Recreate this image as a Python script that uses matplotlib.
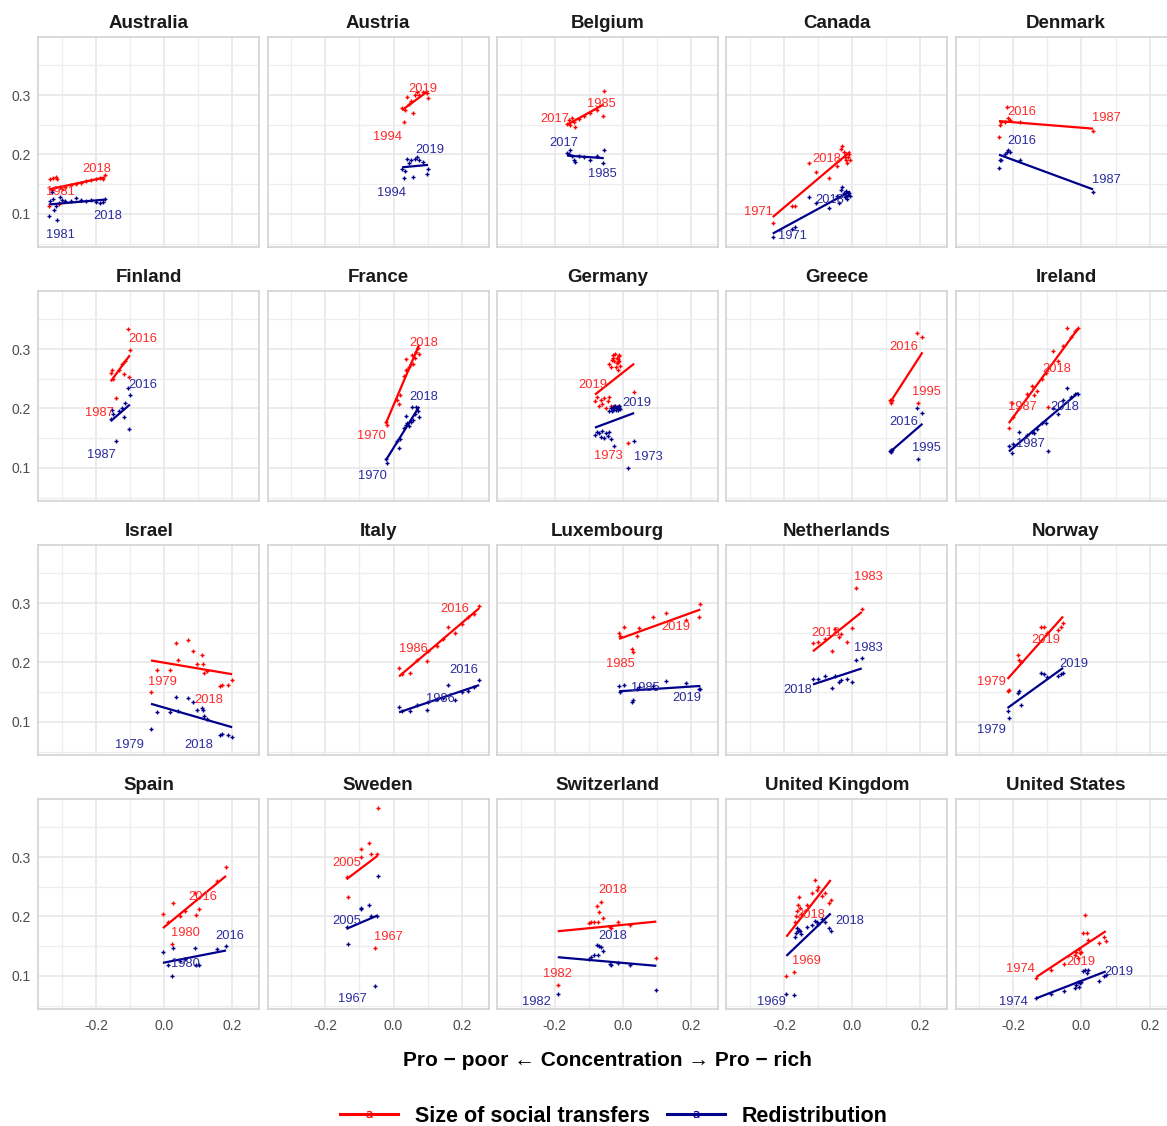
import numpy as np
import matplotlib
matplotlib.use("Agg")
import matplotlib.pyplot as plt
from matplotlib.lines import Line2D

plt.rcParams['font.family'] = ['Liberation Sans', 'DejaVu Sans']
plt.rcParams['axes.unicode_minus'] = False

# ---------------- data ----------------
COUNTRIES = ["Australia", "Austria", "Belgium", "Canada", "Denmark",
             "Finland", "France", "Germany", "Greece", "Ireland",
             "Israel", "Italy", "Luxembourg", "Netherlands", "Norway",
             "Spain", "Sweden", "Switzerland", "United Kingdom", "United States"]

australia_years = [1981, 1985, 1989, 1994, 1995, 1996, 1997, 1998, 1999, 2000, 2001, 2002, 2003, 2004, 2008, 2010, 2012, 2014, 2016, 2018]
australia_conc = [-0.339, -0.334, -0.330, -0.325, -0.322, -0.318, -0.314, -0.310, -0.307, -0.300, -0.290, -0.275, -0.260, -0.245, -0.230, -0.215, -0.200, -0.190, -0.180, -0.174]
australia_size = [0.113, 0.158, 0.140, 0.160, 0.143, 0.163, 0.158, 0.117, 0.145, 0.142, 0.146, 0.148, 0.150, 0.152, 0.155, 0.157, 0.158, 0.160, 0.158, 0.165]
australia_redis = [0.097, 0.122, 0.137, 0.125, 0.107, 0.113, 0.090, 0.118, 0.128, 0.124, 0.121, 0.122, 0.127, 0.123, 0.122, 0.124, 0.120, 0.119, 0.120, 0.126]

austria_years = [1994, 1995, 1997, 2000, 2004, 2007, 2010, 2013, 2014, 2015, 2016, 2017, 2019]
austria_conc = [0.030, 0.025, 0.033, 0.040, 0.045, 0.050, 0.057, 0.063, 0.068, 0.075, 0.085, 0.101, 0.099]
austria_size = [0.255, 0.278, 0.275, 0.297, 0.285, 0.290, 0.270, 0.300, 0.305, 0.300, 0.305, 0.295, 0.303]
austria_redis = [0.160, 0.175, 0.172, 0.193, 0.185, 0.190, 0.162, 0.192, 0.195, 0.190, 0.188, 0.175, 0.167]

belgium_years = [1985, 1988, 1992, 1995, 1997, 2000, 2003, 2006, 2009, 2012, 2015, 2017]
belgium_conc = [-0.059, -0.056, -0.077, -0.097, -0.114, -0.129, -0.139, -0.144, -0.149, -0.154, -0.159, -0.164]
belgium_size = [0.265, 0.307, 0.275, 0.270, 0.265, 0.260, 0.247, 0.255, 0.262, 0.250, 0.258, 0.252]
belgium_redis = [0.185, 0.207, 0.197, 0.190, 0.195, 0.198, 0.187, 0.190, 0.197, 0.208, 0.200, 0.203]

canada_years = [1971, 1975, 1981, 1987, 1991, 1994, 1997, 1998, 2000, 2004, 2007, 2010, 2012, 2013, 2014, 2015, 2017, 2018]
canada_conc = [-0.233, -0.177, -0.169, -0.127, -0.105, -0.069, -0.044, -0.039, -0.034, -0.029, -0.024, -0.021, -0.019, -0.017, -0.014, -0.012, -0.009, -0.006]
canada_size = [0.085, 0.113, 0.113, 0.185, 0.171, 0.160, 0.180, 0.190, 0.210, 0.215, 0.205, 0.195, 0.190, 0.200, 0.185, 0.195, 0.200, 0.190]
canada_redis = [0.062, 0.075, 0.078, 0.128, 0.118, 0.110, 0.130, 0.118, 0.140, 0.145, 0.135, 0.128, 0.130, 0.138, 0.125, 0.132, 0.135, 0.130]

denmark_years = [1987, 1992, 1995, 2000, 2004, 2007, 2010, 2013, 2016]
denmark_conc = [0.034, -0.180, -0.210, -0.215, -0.219, -0.225, -0.235, -0.242, -0.240]
denmark_size = [0.240, 0.255, 0.258, 0.262, 0.280, 0.255, 0.255, 0.230, 0.250]
denmark_redis = [0.137, 0.190, 0.205, 0.208, 0.205, 0.200, 0.190, 0.178, 0.190]

finland_years = [1987, 1991, 1995, 2000, 2004, 2007, 2010, 2011, 2012, 2013, 2016]
finland_conc = [-0.142, -0.157, -0.154, -0.149, -0.134, -0.124, -0.119, -0.114, -0.104, -0.101, -0.107]
finland_size = [0.218, 0.260, 0.265, 0.250, 0.265, 0.275, 0.258, 0.280, 0.253, 0.298, 0.333]
finland_redis = [0.145, 0.183, 0.197, 0.190, 0.195, 0.200, 0.185, 0.210, 0.165, 0.222, 0.235]

france_years = [1970, 1975, 1979, 1984, 1989, 1994, 2000, 2005, 2010, 2011, 2012, 2013, 2014, 2015, 2016, 2017, 2018]
france_conc = [-0.023, -0.020, 0.010, 0.017, 0.019, 0.030, 0.035, 0.036, 0.040, 0.045, 0.050, 0.053, 0.057, 0.063, 0.067, 0.072, 0.075]
france_size = [0.178, 0.173, 0.215, 0.207, 0.222, 0.255, 0.265, 0.283, 0.265, 0.270, 0.275, 0.290, 0.275, 0.285, 0.295, 0.302, 0.292]
france_redis = [0.115, 0.108, 0.145, 0.133, 0.148, 0.168, 0.172, 0.187, 0.175, 0.170, 0.178, 0.202, 0.180, 0.190, 0.202, 0.195, 0.186]

germany_years = [1973, 1978, 1981, 1983, 1984, 1985, 1986, 1987, 1988, 1989, 1990, 1991, 1992,
                 1994, 1995, 1996, 1998, 2000, 2001, 2002, 2004, 2006, 2008, 2010, 2011, 2012, 2014,
                 2015, 2016, 2017, 2019]
germany_conc = [0.016, 0.033, -0.026, -0.082, -0.075, -0.070, -0.065, -0.060, -0.055, -0.050, -0.045, -0.040, -0.035,
                -0.040, -0.035, -0.030, -0.028, -0.025, -0.022, -0.020, -0.018, -0.015, -0.013, -0.012, -0.010,
                -0.008, -0.014, -0.011, -0.032, -0.017, -0.026]
germany_size = [0.142, 0.227, 0.205, 0.212, 0.220, 0.205, 0.215, 0.208, 0.218, 0.200, 0.212, 0.220, 0.205,
                0.275, 0.270, 0.285, 0.290, 0.280, 0.292, 0.270, 0.285, 0.278, 0.265, 0.288, 0.280,
                0.272, 0.283, 0.290, 0.282, 0.276, 0.203]
germany_redis = [0.100, 0.145, 0.137, 0.155, 0.160, 0.158, 0.152, 0.163, 0.150, 0.158, 0.153, 0.160, 0.148,
                 0.195, 0.200, 0.198, 0.203, 0.200, 0.205, 0.197, 0.202, 0.198, 0.200, 0.204, 0.201,
                 0.199, 0.203, 0.205, 0.196, 0.200, 0.203]

greece_years = [1995, 2000, 2004, 2007, 2010, 2013, 2016]
greece_conc = [0.194, 0.191, 0.206, 0.116, 0.114, 0.112, 0.113]
greece_size = [0.210, 0.327, 0.320, 0.215, 0.210, 0.215, 0.212]
greece_redis = [0.115, 0.200, 0.193, 0.130, 0.127, 0.128, 0.130]

ireland_years = [1987, 1994, 1995, 1996, 2000, 2002, 2004, 2005, 2006, 2007, 2008, 2009, 2010, 2011, 2012, 2014, 2016, 2018]
ireland_conc = [-0.205, -0.213, -0.200, -0.183, -0.160, -0.145, -0.138, -0.130, -0.115, -0.105, -0.098, -0.083, -0.070, -0.055, -0.042, -0.030, -0.020, -0.010]
ireland_size = [0.210, 0.168, 0.185, 0.200, 0.225, 0.237, 0.222, 0.230, 0.250, 0.260, 0.203, 0.297, 0.280, 0.305, 0.335, 0.320, 0.330, 0.335]
ireland_redis = [0.125, 0.137, 0.140, 0.160, 0.155, 0.160, 0.158, 0.165, 0.175, 0.175, 0.128, 0.200, 0.190, 0.215, 0.235, 0.220, 0.225, 0.225]

israel_years = [1979, 1986, 1992, 1997, 2001, 2005, 2007, 2010, 2011, 2012, 2013, 2014, 2015, 2016, 2017, 2018]
israel_conc = [-0.039, -0.022, 0.017, 0.034, 0.041, 0.070, 0.084, 0.096, 0.110, 0.114, 0.116, 0.124, 0.164, 0.168, 0.186, 0.199]
israel_size = [0.150, 0.187, 0.188, 0.232, 0.205, 0.237, 0.220, 0.198, 0.213, 0.198, 0.183, 0.186, 0.160, 0.162, 0.163, 0.170]
israel_redis = [0.088, 0.117, 0.117, 0.142, 0.118, 0.140, 0.133, 0.120, 0.123, 0.120, 0.110, 0.105, 0.078, 0.080, 0.078, 0.075]

italy_years = [1986, 1987, 1989, 1991, 1993, 1995, 1998, 2000, 2002, 2004, 2008, 2010, 2014, 2016]
italy_conc = [0.016, 0.025, 0.048, 0.069, 0.098, 0.100, 0.127, 0.145, 0.160, 0.180, 0.200, 0.219, 0.235, 0.251]
italy_size = [0.190, 0.180, 0.183, 0.205, 0.203, 0.220, 0.227, 0.240, 0.260, 0.250, 0.265, 0.277, 0.282, 0.295]
italy_redis = [0.125, 0.118, 0.118, 0.128, 0.120, 0.133, 0.138, 0.140, 0.162, 0.137, 0.150, 0.152, 0.158, 0.170]

luxembourg_years = [1985, 1986, 1991, 1994, 1997, 2000, 2004, 2007, 2010, 2013, 2016, 2019]
luxembourg_conc = [0.027, 0.029, -0.011, -0.009, 0.003, 0.042, 0.047, 0.088, 0.125, 0.186, 0.222, 0.227]
luxembourg_size = [0.222, 0.218, 0.250, 0.245, 0.260, 0.245, 0.258, 0.277, 0.283, 0.272, 0.277, 0.299]
luxembourg_redis = [0.133, 0.137, 0.160, 0.150, 0.163, 0.155, 0.158, 0.160, 0.169, 0.166, 0.155, 0.155]

netherlands_years = [1983, 1987, 1990, 1993, 1999, 2004, 2007, 2010, 2013, 2015, 2018]
netherlands_conc = [0.010, 0.028, 0.000, -0.014, -0.032, -0.039, -0.049, -0.059, -0.079, -0.099, -0.115]
netherlands_size = [0.325, 0.290, 0.258, 0.235, 0.248, 0.243, 0.257, 0.220, 0.240, 0.235, 0.233]
netherlands_redis = [0.205, 0.208, 0.167, 0.172, 0.170, 0.168, 0.178, 0.157, 0.178, 0.173, 0.172]

norway_years = [1979, 1986, 1991, 1995, 2000, 2004, 2007, 2010, 2013, 2016, 2019]
norway_conc = [-0.217, -0.213, -0.186, -0.182, -0.178, -0.119, -0.110, -0.100, -0.070, -0.060, -0.054]
norway_size = [0.152, 0.153, 0.213, 0.205, 0.200, 0.259, 0.260, 0.250, 0.255, 0.260, 0.267]
norway_redis = [0.118, 0.107, 0.148, 0.152, 0.128, 0.183, 0.180, 0.175, 0.177, 0.180, 0.182]

spain_years = [1980, 1985, 1990, 1995, 2000, 2004, 2007, 2010, 2012, 2013, 2016]
spain_conc = [0.023, -0.004, 0.011, 0.026, 0.046, 0.061, 0.090, 0.092, 0.102, 0.156, 0.181]
spain_size = [0.153, 0.205, 0.190, 0.222, 0.200, 0.210, 0.240, 0.203, 0.212, 0.260, 0.283]
spain_redis = [0.100, 0.140, 0.118, 0.147, 0.125, 0.128, 0.147, 0.118, 0.118, 0.145, 0.150]

sweden_years = [1967, 1975, 1981, 1987, 1992, 1995, 2000, 2002, 2005]
sweden_conc = [-0.055, -0.135, -0.047, -0.073, -0.095, -0.097, -0.065, -0.050, -0.138]
sweden_size = [0.147, 0.233, 0.382, 0.323, 0.313, 0.300, 0.305, 0.305, 0.267]
sweden_redis = [0.083, 0.153, 0.268, 0.220, 0.213, 0.215, 0.200, 0.200, 0.182]

switzerland_years = [1982, 1992, 2000, 2002, 2004, 2006, 2007, 2008, 2009, 2010, 2012, 2014, 2016, 2018]
switzerland_conc = [-0.191, 0.098, -0.099, -0.095, -0.077, -0.069, -0.065, -0.084, -0.074, -0.039, -0.034, -0.014, 0.021, -0.059]
switzerland_size = [0.085, 0.130, 0.189, 0.190, 0.218, 0.208, 0.224, 0.190, 0.190, 0.183, 0.180, 0.190, 0.185, 0.197]
switzerland_redis = [0.069, 0.077, 0.129, 0.132, 0.152, 0.150, 0.148, 0.135, 0.135, 0.120, 0.118, 0.122, 0.118, 0.142]

uk_years = [1969, 1974, 1979, 1986, 1991, 1994, 1995, 1999, 2004, 2007, 2010, 2012, 2013, 2014, 2015, 2016, 2017, 2018]
uk_conc = [-0.193, -0.171, -0.167, -0.164, -0.161, -0.159, -0.157, -0.154, -0.149, -0.134, -0.119, -0.109, -0.104, -0.099, -0.089, -0.079, -0.069, -0.063]
uk_size = [0.100, 0.106, 0.190, 0.200, 0.210, 0.220, 0.233, 0.215, 0.205, 0.220, 0.240, 0.262, 0.245, 0.250, 0.235, 0.240, 0.222, 0.227]
uk_redis = [0.070, 0.068, 0.165, 0.172, 0.180, 0.175, 0.178, 0.175, 0.170, 0.182, 0.185, 0.192, 0.190, 0.188, 0.195, 0.190, 0.180, 0.175]

us_years = [1974, 1979, 1986, 1991, 1994, 1997, 2000, 2004, 2007, 2010, 2013, 2014, 2016, 2017, 2018, 2019]
us_conc = [-0.132, -0.090, -0.050, -0.020, -0.015, -0.010, -0.008, -0.005, 0.000, 0.005, 0.010, 0.015, 0.020, 0.050, 0.065, 0.071]
us_size = [0.097, 0.110, 0.120, 0.135, 0.140, 0.130, 0.145, 0.138, 0.140, 0.172, 0.202, 0.172, 0.160, 0.155, 0.165, 0.158]
us_redis = [0.063, 0.070, 0.075, 0.080, 0.085, 0.090, 0.082, 0.088, 0.090, 0.108, 0.110, 0.105, 0.110, 0.092, 0.100, 0.102]

SERIES_NAMES = ["Size of social transfers", "Redistribution"]
X_TICKS = [-0.2, 0.0, 0.2]
Y_TICKS = [0.1, 0.2, 0.3]
X_LABEL = "Pro \u2212 poor \u2190 Concentration \u2192 Pro \u2212 rich"

# table assembled from the named lists
DATA = {
    "Australia": (australia_years, australia_conc, australia_size, australia_redis),
    "Austria": (austria_years, austria_conc, austria_size, austria_redis),
    "Belgium": (belgium_years, belgium_conc, belgium_size, belgium_redis),
    "Canada": (canada_years, canada_conc, canada_size, canada_redis),
    "Denmark": (denmark_years, denmark_conc, denmark_size, denmark_redis),
    "Finland": (finland_years, finland_conc, finland_size, finland_redis),
    "France": (france_years, france_conc, france_size, france_redis),
    "Germany": (germany_years, germany_conc, germany_size, germany_redis),
    "Greece": (greece_years, greece_conc, greece_size, greece_redis),
    "Ireland": (ireland_years, ireland_conc, ireland_size, ireland_redis),
    "Israel": (israel_years, israel_conc, israel_size, israel_redis),
    "Italy": (italy_years, italy_conc, italy_size, italy_redis),
    "Luxembourg": (luxembourg_years, luxembourg_conc, luxembourg_size, luxembourg_redis),
    "Netherlands": (netherlands_years, netherlands_conc, netherlands_size, netherlands_redis),
    "Norway": (norway_years, norway_conc, norway_size, norway_redis),
    "Spain": (spain_years, spain_conc, spain_size, spain_redis),
    "Sweden": (sweden_years, sweden_conc, sweden_size, sweden_redis),
    "Switzerland": (switzerland_years, switzerland_conc, switzerland_size, switzerland_redis),
    "United Kingdom": (uk_years, uk_conc, uk_size, uk_redis),
    "United States": (us_years, us_conc, us_size, us_redis),
}

# ---------------- layout: label nudges (data units) ----------------
# order: size-first, size-last, redis-first, redis-last
LABEL_NUDGE = {
    "Australia": [(0.035, 0.024), (-0.024, 0.010), (0.035, -0.032), (0.008, -0.029)],
    "Austria": [(-0.047, -0.025), (-0.014, 0.007), (-0.035, -0.025), (0.006, 0.040)],
    "Belgium": [(-0.003, 0.020), (-0.035, 0.008), (0.0, -0.017), (-0.010, 0.017)],
    "Canada": [(-0.043, 0.018), (-0.068, 0.003), (0.059, 0.001), (-0.059, -0.007)],
    "Denmark": [(0.038, 0.022), (0.065, 0.022), (0.038, 0.020), (0.065, 0.033)],
    "Finland": [(-0.047, -0.025), (0.044, -0.016), (-0.042, -0.023), (0.044, 0.005)],
    "France": [(-0.042, -0.025), (0.012, 0.018), (-0.039, -0.028), (0.014, 0.034)],
    "Germany": [(-0.060, -0.022), (-0.062, 0.037), (0.059, 0.018), (0.068, 0.007)],
    "Greece": [(0.024, 0.018), (0.037, 0.091), (0.024, 0.018), (0.037, 0.047)],
    "Ireland": [(0.033, -0.007), (-0.062, -0.068), (0.054, 0.015), (-0.038, -0.022)],
    "Israel": [(0.035, 0.018), (-0.070, -0.033), (-0.062, -0.026), (-0.097, -0.013)],
    "Italy": [(0.041, 0.033), (-0.071, -0.005), (0.120, 0.013), (-0.044, 0.018)],
    "Luxembourg": [(-0.035, -0.025), (-0.071, -0.039), (0.040, 0.024), (-0.041, -0.015)],
    "Netherlands": [(0.037, 0.018), (0.038, 0.017), (0.037, 0.019), (-0.044, -0.019)],
    "Norway": [(-0.046, 0.016), (-0.051, -0.029), (-0.046, -0.031), (0.032, 0.016)],
    "Spain": [(0.038, 0.019), (-0.067, -0.050), (0.038, 0.020), (0.012, 0.018)],
    "Sweden": [(0.039, 0.018), (0.0, 0.023), (-0.065, -0.021), (0.0, 0.011)],
    "Switzerland": [(0.0, 0.019), (0.030, 0.048), (-0.063, -0.012), (0.030, 0.026)],
    "United Kingdom": [(0.060, 0.025), (-0.058, -0.024), (-0.045, -0.013), (0.057, 0.018)],
    "United States": [(-0.046, 0.015), (-0.074, -0.034), (-0.068, -0.006), (0.039, 0.004)],
}

RED = "#FF0000"
BLUE = "#00008B"
RED_TXT = "#FF2A2A"
BLUE_TXT = "#2B2B9E"

W, H = 1167, 1126
fig = plt.figure(figsize=(W / 100, H / 100), dpi=100)

PX_LEFT, PX_TOP = 38.3, 36.7
PW, PH = 221.0, 210.6
DX, DY = 229.3, 254.0

for i, name in enumerate(COUNTRIES):
    r, c = divmod(i, 5)
    left = PX_LEFT + DX * c
    top = PX_TOP + DY * r
    ax = fig.add_axes([left / W, 1 - (top + PH) / H, PW / W, PH / H])
    ax.set_xlim(-0.3695, 0.2786)
    ax.set_ylim(0.044, 0.398)
    ax.set_xticks(X_TICKS)
    ax.set_xticks([-0.3, -0.1, 0.1], minor=True)
    ax.set_yticks(Y_TICKS)
    ax.set_yticks([0.05, 0.15, 0.25, 0.35], minor=True)
    ax.grid(which='major', color='#E6E6E6', lw=1.1)
    ax.grid(which='minor', color='#EDEDED', lw=0.9)
    ax.set_axisbelow(True)
    for sp in ax.spines.values():
        sp.set_color('#D0D0D0')
        sp.set_linewidth(1.1)
    ax.tick_params(which='both', length=0, labelcolor='#4D4D4D', labelsize=10)
    ax.tick_params(axis='y', pad=5.5)
    ax.tick_params(axis='x', pad=7)
    if c == 0:
        ax.set_yticklabels([f"{v:.1f}" for v in Y_TICKS])
    else:
        ax.set_yticklabels([])
    if r == 3:
        ax.set_xticklabels([f"{v:.1f}" for v in X_TICKS])
    else:
        ax.set_xticklabels([])
    ax.set_title(name, fontsize=13.5, fontweight='bold', color='#1A1A1A', pad=6.5)

    years, conc, size, redis = DATA[name]
    x = np.array(conc)
    nudges = LABEL_NUDGE[name]
    for k, (yvals, col, tcol) in enumerate([(size, RED, RED_TXT), (redis, BLUE, BLUE_TXT)]):
        y = np.array(yvals)
        coef = np.polyfit(x, y, 1)
        xs = np.array([x.min(), x.max()])
        ax.plot(xs, np.polyval(coef, xs), color=col, lw=1.6, solid_capstyle='butt', zorder=3)
        ax.plot(x, y, '+', color=col, ms=3.5, mew=1.0, zorder=4)
        for j, idx in enumerate([0, len(years) - 1]):
            dx, dy = nudges[2 * k + j]
            ax.text(x[idx] + dx, y[idx] + dy, str(years[idx]), color=tcol,
                    fontsize=9.3, ha='center', va='center', zorder=5)

fig.text(607 / W, 1 - 1060 / H, X_LABEL, ha='center', va='center',
         fontsize=15, fontweight='bold', color='#000000')

handles = [Line2D([], [], color=RED, lw=2.2, marker=r'$\mathrm{a}$', ms=5, markeredgewidth=0.2),
           Line2D([], [], color=BLUE, lw=2.2, marker=r'$\mathrm{a}$', ms=5, markeredgewidth=0.2)]
fig.legend(handles, SERIES_NAMES, loc='center', bbox_to_anchor=(614 / W, 1 - 1116 / H),
           ncol=2, frameon=False, prop={'weight': 'bold', 'size': 15.5},
           handlelength=2.7, handletextpad=0.77, columnspacing=0.82,
           borderpad=0.2)

fig.savefig("out.png", dpi=100)
